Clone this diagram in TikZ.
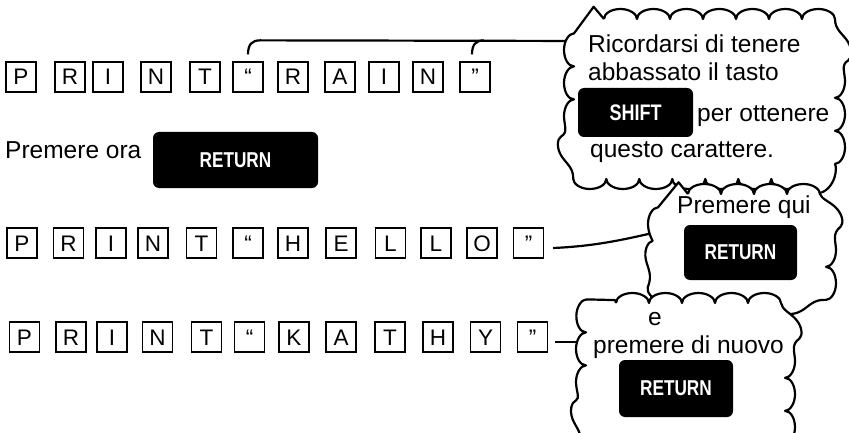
\documentclass[tikz,border=0pt]{standalone}
\usepackage{fontspec}
\setmainfont{Liberation Sans}
\newfontfamily\keyfont[FakeStretch=0.8]{Liberation Sans}
\usetikzlibrary{decorations.pathmorphing,calc}
\begin{document}
\begin{tikzpicture}[x=1pt,y=-1pt,
  letterbox/.style={draw, line width=1.3pt, minimum width=30pt, minimum height=30pt, inner sep=0pt,
    font=\fontsize{22.5}{22}\selectfont, text height=16pt, text depth=0pt},
  keybox/.style={fill=black, rounded corners=6pt, text=white, inner sep=0pt,
    font=\keyfont\bfseries\fontsize{21.5}{21}\selectfont},
  body/.style={font=\fontsize{24.5}{28}\selectfont, inner sep=0pt, anchor=base west},
  conn/.style={line width=2.2pt},
  cloudline/.style={draw, fill=white, line width=2.2pt, line join=round,
    decorate, decoration={bumps, segment length=66pt, amplitude=10pt}},
]
\clip (0,0) rectangle (849,433);
\fill[white] (0,0) rectangle (849,433);

% letter rows
\foreach \x/\l [count=\i] in {21/P,70/R,108/I,156/N,205/T,248/“,293/R,340/A,384/I,428/N,475/”}
  \node[letterbox] (a\i) at (\x,77) {\l};
\foreach \x/\l [count=\i] in {22/P,68.5/R,111/I,153/N,201.5/T,248/“,293/H,341/E,390.5/L,436/L,482/O,528.5/”}
  \node[letterbox] (b\i) at (\x,243) {\l};
\foreach \x/\l [count=\i] in {24.5/P,71/R,112/I,157.5/N,206.5/T,249.5/“,294/K,341/A,390/T,438/H,485.5/Y,532.5/”}
  \node[letterbox] (c\i) at (\x,337) {\l};

\node[body] (ora) at (5,159) {Premere ora};
\node[keybox, minimum width=165pt, minimum height=56pt] (ret1) at (235.5,160) {RETURN};

% connector end points inside the clouds
\coordinate (c1in) at (592,41);
\coordinate (c2in) at (666,230);
\coordinate (c3in) at (594,342);

\draw[conn] ($(a6.north)+(0,-7)$) .. controls +(0,-10) and +(-8,0) .. ($(a6.north)+(12,-21)$) -- (c1in);
\draw[conn] ($(a11.north)+(-3,-7)$) .. controls +(0,-10) and +(-8,0) .. ($(a11.north)+(9,-21)$);
\draw[conn] ($(b12.east)+(9,5)$) .. controls (600,246) and (630,238) .. (c2in);
\draw[conn] ($(c12.east)+(7,5)$) -- (c3in);

% clouds
\path[cloudline] {[rounded corners=30pt] (574,19) -- (835,19) -- (835,179) -- (574,179) -- cycle};
\path[cloudline] {[rounded corners=30pt] (658,194) -- (826,194) -- (826,298) -- (658,298) -- cycle};
\path[cloudline] {[rounded corners=30pt] (586,303) -- (785,303) -- (785,450) -- (586,450) -- cycle};

% cloud 1 contents
\node[body] (t1) at (588,53) {Ricordarsi di tenere};
\node[body] (t2) at (588,81) {abbassato il tasto};
\node[keybox, minimum width=115pt, minimum height=49pt, font=\keyfont\bfseries\fontsize{22.5}{22}\selectfont] (shift) at (635.5,112.5) {SHIFT};
\node[body] (t3) at (697,122) {per ottenere};
\node[body] (t4) at (590,158) {questo carattere.};

% cloud 2 contents
\node[body] (t5) at (677,213) {Premere qui};
\node[keybox, minimum width=113pt, minimum height=55pt] (ret2) at (740.5,252.5) {RETURN};

% cloud 3 contents
\node[body] (t6) at (648,325) {e};
\node[body] (t7) at (593,353) {premere di nuovo};
\node[keybox, minimum width=114pt, minimum height=57pt] (ret3) at (676,388.5) {RETURN};
\end{tikzpicture}
\end{document}
